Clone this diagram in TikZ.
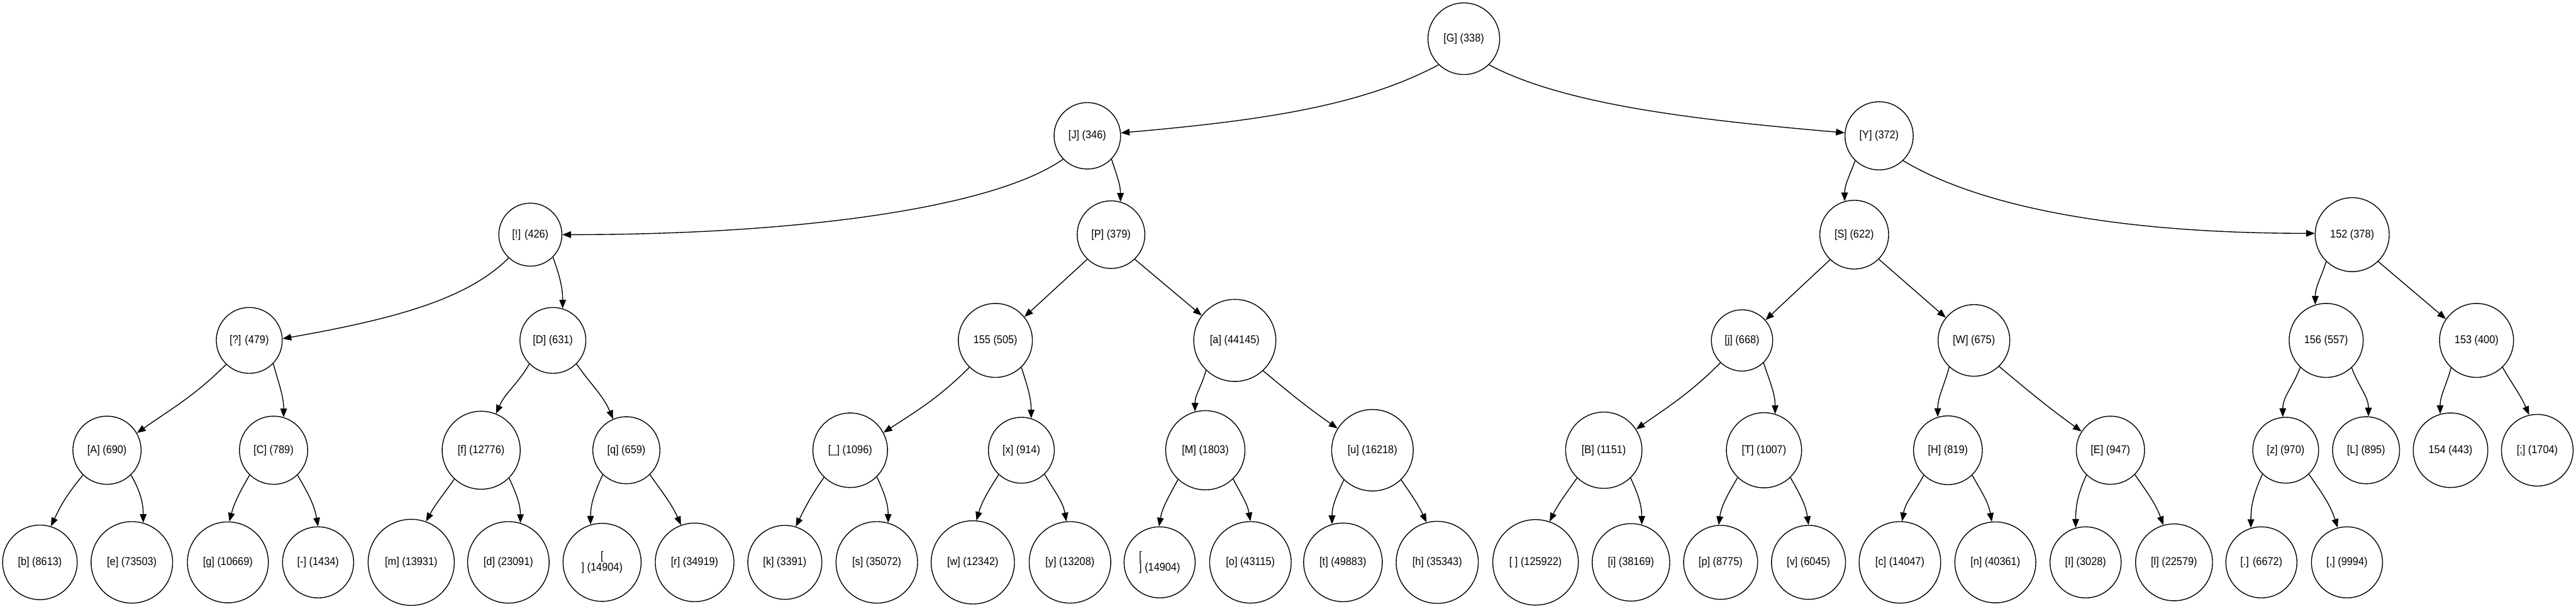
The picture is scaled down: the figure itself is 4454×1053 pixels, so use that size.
\documentclass[tikz,border=0pt]{standalone}
\usepackage{fontspec}
\newfontfamily\tfont{Liberation Sans}[FakeStretch=0.91]
\usetikzlibrary{arrows.meta}

\begin{document}
\begin{tikzpicture}[x=0.02cm, y=-0.02cm, line width=0.85pt, >={Triangle[length=3mm,width=2.3mm]},
  tn/.style={circle, draw, inner sep=0pt, minimum size=#1, font=\tfont\fontsize{11.1pt}{10.8pt}\selectfont}]
\useasboundingbox (0,0) rectangle (4454,1053);

\node[tn=2.48cm] (G) at (2531,67) {[G] (338)};

\node[tn=2.30cm] (J) at (1880,235) {[J] (346)};
\node[tn=2.36cm] (Y) at (3249,235) {[Y] (372)};

\node[tn=2.18cm] (excl) at (917,406) {[!] (426)};
\node[tn=2.34cm] (P) at (1921,406) {[P] (379)};
\node[tn=2.38cm] (S) at (3206,406) {[S] (622)};
\node[tn=2.56cm] (n152) at (4067,406) {152 (378)};

\node[tn=2.28cm] (quest) at (431,589) {[?] (479)};
\node[tn=2.28cm] (D) at (956,589) {[D] (631)};
\node[tn=2.56cm] (n155) at (1721,589) {155 (505)};
\node[tn=2.84cm] (a) at (2135,589) {[a] (44145)};
\node[tn=2.12cm] (j) at (3012,589) {[j] (668)};
\node[tn=2.48cm] (W) at (3413,589) {[W] (675)};
\node[tn=2.56cm] (n156) at (4022,589) {156 (557)};
\node[tn=2.56cm] (n153) at (4282,589) {153 (400)};

\node[tn=2.36cm] (A) at (185,779) {[A] (690)};
\node[tn=2.36cm] (C) at (473,779) {[C] (789)};
\node[tn=2.70cm] (f) at (832,779) {[f] (12776)};
\node[tn=2.32cm] (q) at (1083,779) {[q] (659)};
\node[tn=2.58cm] (under) at (1470,779) {[\_] (1096)};
\node[tn=2.28cm] (x) at (1766,779) {[x] (914)};
\node[tn=2.74cm] (M) at (2084,779) {[M] (1803)};
\node[tn=2.82cm] (u) at (2373,779) {[u] (16218)};
\node[tn=2.64cm] (B) at (2773,779) {[B] (1151)};
\node[tn=2.60cm] (T) at (3050,779) {[T] (1007)};
\node[tn=2.38cm] (H) at (3368,779) {[H] (819)};
\node[tn=2.36cm] (E) at (3649,779) {[E] (947)};
\node[tn=2.28cm] (z) at (3952,779) {[z] (970)};
\node[tn=2.32cm] (L) at (4091,779) {[L] (895)};
\node[tn=2.58cm] (n154) at (4237,779) {154 (443)};
\node[tn=2.48cm] (semi) at (4387,779) {[;] (1704)};

\node[tn=2.58cm] (b) at (69,973) {[b] (8613)};
\node[tn=2.82cm] (e) at (228,973) {[e] (73503)};
\node[tn=2.80cm] (g) at (394,973) {[g] (10669)};
\node[tn=2.46cm] (dash) at (550,973) {[-] (1434)};
\node[tn=2.98cm] (m) at (711,973) {[m] (13931)};
\node[tn=2.82cm] (d) at (879,973) {[d] (23091)};
\node[tn=2.70cm, align=center] (nlA) at (1041,973) {[\\] (14904)};
\node[tn=2.72cm] (r) at (1201,973) {[r] (34919)};
\node[tn=2.56cm] (k) at (1357,973) {[k] (3391)};
\node[tn=2.82cm] (s) at (1516,973) {[s] (35072)};
\node[tn=2.88cm] (w) at (1682,973) {[w] (12342)};
\node[tn=2.82cm] (y) at (1850,973) {[y] (13208)};
\node[tn=2.46cm, align=left] (nlB) at (2005,973) {[\\] (14904)};
\node[tn=2.82cm] (o) at (2162,973) {[o] (43115)};
\node[tn=2.72cm] (t) at (2322,973) {[t] (49883)};
\node[tn=2.84cm] (h) at (2485,973) {[h] (35343)};
\node[tn=2.96cm] (space) at (2655,973) {[ ] (125922)};
\node[tn=2.68cm] (i) at (2820,973) {[i] (38169)};
\node[tn=2.56cm] (p) at (2975,973) {[p] (8775)};
\node[tn=2.56cm] (v) at (3127,973) {[v] (6045)};
\node[tn=2.82cm] (c) at (3285,973) {[c] (14047)};
\node[tn=2.80cm] (n) at (3450,973) {[n] (40361)};
\node[tn=2.46cm] (I) at (3606,973) {[I] (3028)};
\node[tn=2.66cm] (l) at (3759,973) {[l] (22579)};
\node[tn=2.46cm] (dot) at (3910,973) {[.] (6672)};
\node[tn=2.46cm] (comma) at (4058,973) {[,] (9994)};

\draw[->] (G.-134) to[out=-152, in=5, out distance=3cm, in distance=5cm] (J.5);
\draw[->] (G.-46) to[out=-28, in=175, out distance=3cm, in distance=5cm] (Y.175);

\draw[->] (J.-136) to[out=-145, in=0, out distance=3cm, in distance=8cm] (excl.0);
\draw[->] (J.-44) to[out=-72, in=90] (P.74);
\draw[->] (Y.-134) to[out=-110, in=90] (S.106);
\draw[->] (Y.-46) to[out=-31, in=180, out distance=3cm, in distance=7cm] (n152.178);

\draw[->] (excl.-133) to[out=-135, in=10, out distance=2cm, in distance=4cm] (quest.3);
\draw[->] (excl.-45) to[out=-70, in=90] (D.73);
\draw[->] (P.-134) -- (n155.39);
\draw[->] (P.-46) -- (a.143);
\draw[->] (S.-134) -- (j.41);
\draw[->] (S.-45) -- (W.141);
\draw[->] (n152.-134) to[out=-108, in=90] (n156.107);
\draw[->] (n152.-46) -- (n153.145);

\draw[->] (quest.-134) to[out=-135, in=35] (A.30);
\draw[->] (quest.-44) to[out=-75, in=90] (C.73);
\draw[->] (D.-135) to[out=-120, in=66] (f.68);
\draw[->] (D.-45) to[out=-55, in=113] (q.113);
\draw[->] (n155.-134) to[out=-135, in=33] (under.28);
\draw[->] (n155.-46) to[out=-72, in=90] (x.73);
\draw[->] (a.-134) to[out=-105, in=90] (M.105);
\draw[->] (a.-47) to[out=-40, in=145] (u.148);
\draw[->] (j.-134) to[out=-135, in=35] (B.33);
\draw[->] (j.-46) to[out=-72, in=90] (T.73);
\draw[->] (W.-133) to[out=-105, in=90] (H.107);
\draw[->] (W.-46) to[out=-40, in=144] (E.147);
\draw[->] (n156.-134) to[out=-110, in=90] (z.95);
\draw[->] (n156.-47) to[out=-70, in=90] (L.86);
\draw[->] (n153.-133) to[out=-105, in=90] (n154.106);
\draw[->] (n153.-46) to[out=-60, in=113] (semi.103);

\draw[->] (A.-134) to[out=-130, in=65] (b.73);
\draw[->] (A.-46) to[out=-60, in=90] (e.74);
\draw[->] (C.-134) to[out=-120, in=75] (g.88);
\draw[->] (C.-46) to[out=-60, in=100] (dash.90);
\draw[->] (f.-133) to[out=-125, in=62] (m.70);
\draw[->] (f.-45) to[out=-65, in=90] (d.73);
\draw[->] (q.-134) to[out=-115, in=90] (nlA.107);
\draw[->] (q.-46) to[out=-55, in=114] (r.110);
\draw[->] (under.-134) to[out=-125, in=64] (k.73);
\draw[->] (under.-45) to[out=-65, in=90] (s.74);
\draw[->] (x.-133) to[out=-122, in=74] (w.85);
\draw[->] (x.-46) to[out=-60, in=100] (y.95);
\draw[->] (M.-133) to[out=-118, in=80] (nlB.91);
\draw[->] (M.-46) to[out=-62, in=100] (o.90);
\draw[->] (u.-134) to[out=-115, in=90] (t.106);
\draw[->] (u.-46) to[out=-55, in=115] (h.105);
\draw[->] (B.-134) to[out=-125, in=64] (space.71);
\draw[->] (B.-46) to[out=-65, in=90] (i.74);
\draw[->] (T.-134) to[out=-120, in=82] (p.93);
\draw[->] (T.-46) to[out=-60, in=98] (v.90);
\draw[->] (H.-134) to[out=-118, in=80] (c.87);
\draw[->] (H.-46) to[out=-60, in=100] (n.95);
\draw[->] (E.-134) to[out=-115, in=90] (I.106);
\draw[->] (E.-45) to[out=-55, in=110] (l.106);
\draw[->] (z.-134) to[out=-115, in=90] (dot.107);
\draw[->] (z.-46) to[out=-55, in=108] (comma.105);
\end{tikzpicture}
\end{document}
